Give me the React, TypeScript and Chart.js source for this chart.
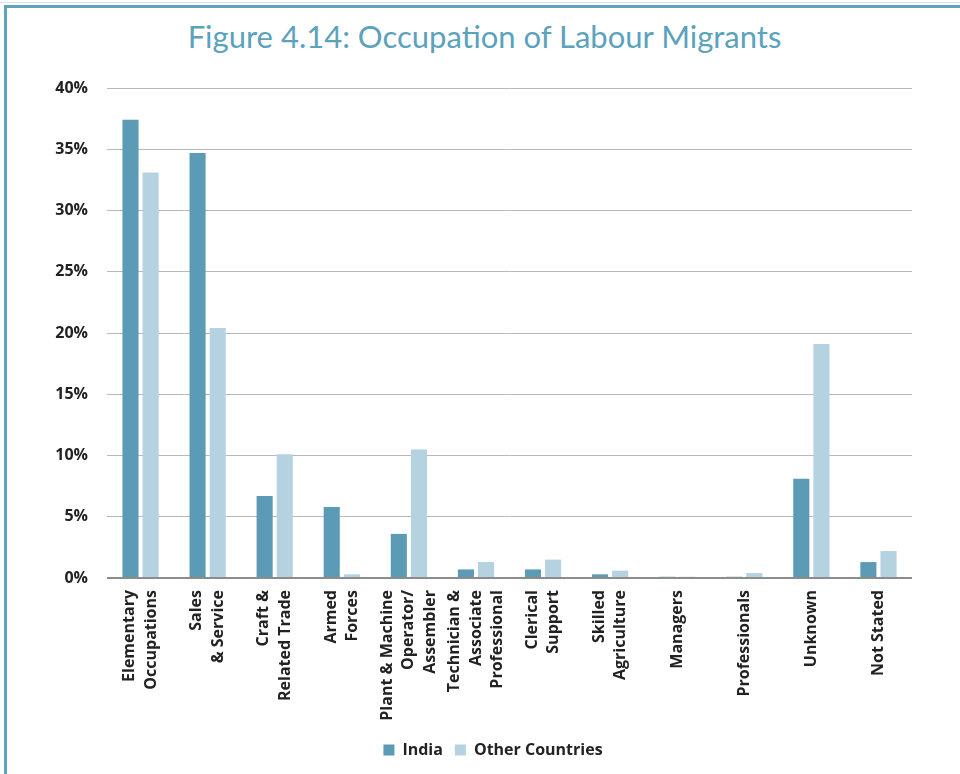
import React, { useEffect, useRef } from "react";
import { Chart, registerables } from "chart.js";

Chart.register(...registerables);

const categories: string[][] = [
  ["Elementary", "Occupations"],
  ["Sales", "& Service"],
  ["Craft &", "Related Trade"],
  ["Armed", "Forces"],
  ["Plant & Machine", "Operator/", "Assembler"],
  ["Technician &", "Associate", "Professional"],
  ["Clerical", "Support"],
  ["Skilled", "Agriculture"],
  ["Managers"],
  ["Professionals"],
  ["Unknown"],
  ["Not Stated"],
];

const indiaValues = [37.4, 34.7, 6.7, 5.8, 3.6, 0.7, 0.7, 0.3, 0.1, 0.1, 8.1, 1.3];
const otherValues = [33.1, 20.4, 10.1, 0.3, 10.5, 1.3, 1.5, 0.6, 0.1, 0.4, 19.1, 2.2];

const seriesNames = ["India", "Other Countries"];
const yTicks = [0, 5, 10, 15, 20, 25, 30, 35, 40];

const TITLE = "Figure 4.14: Occupation of Labour Migrants";

const LABEL_FONT = "bold 16px 'Open Sans', sans-serif";
const LABEL_LINE = 21.6;

const centeredLabelsPlugin = {
  id: "centeredLabels",
  afterLayout(chart: any) {
    if (chart.legend) {
      chart.legend.left = 74;
    }
  },
  afterDraw(chart: any) {
    const xs = chart.scales.x;
    const ctx = chart.ctx;
    const y0 = chart.chartArea.bottom + 12;
    ctx.save();
    ctx.font = LABEL_FONT;
    ctx.fillStyle = "#222";
    ctx.textAlign = "right";
    ctx.textBaseline = "middle";
    categories.forEach((lines, i) => {
      const px = xs.getPixelForTick(i);
      const n = lines.length;
      lines.forEach((line, j) => {
        const off = (j - (n - 1) / 2) * LABEL_LINE;
        ctx.save();
        ctx.translate(px + off, y0);
        ctx.rotate(-Math.PI / 2);
        ctx.fillText(line, 0, 0);
        ctx.restore();
      });
    });
    ctx.restore();
  },
};

export default function App() {
  const canvasRef = useRef<HTMLCanvasElement | null>(null);

  useEffect(() => {
    if (!canvasRef.current) return;
    const chart = new Chart(canvasRef.current, {
      type: "bar",
      data: {
        labels: categories.map((l) => l.join(" ")),
        datasets: [
          {
            label: seriesNames[0],
            data: indiaValues,
            backgroundColor: "#5b9bb6",
            borderWidth: 0,
            categoryPercentage: 0.6,
            barPercentage: 0.8,
          },
          {
            label: seriesNames[1],
            data: otherValues,
            backgroundColor: "#b4d2e0",
            borderWidth: 0,
            categoryPercentage: 0.6,
            barPercentage: 0.8,
          },
        ],
      },
      plugins: [centeredLabelsPlugin],
      options: {
        animation: false,
        responsive: false,
        maintainAspectRatio: false,
        layout: { padding: { left: 0, right: 48, top: 88, bottom: 6 } },
        plugins: {
          title: { display: false },
          tooltip: { enabled: false },
          legend: {
            position: "bottom",
            labels: {
              boxWidth: 11,
              boxHeight: 11,
              padding: 12,
              color: "#222",
              font: { family: "'Open Sans', sans-serif", size: 16, weight: "bold" },
            },
          },
        },
        scales: {
          x: {
            grid: { display: false, drawTicks: false },
            border: { display: false },
            ticks: { display: false },
            afterFit: (scale: any) => {
              scale.height = 152;
            },
          },
          y: {
            min: 0,
            max: 40,
            afterBuildTicks: (scale: any) => {
              scale.ticks = yTicks.map((v) => ({ value: v }));
            },
            grid: {
              drawTicks: false,
              color: (ctx: any) => (ctx.tick && ctx.tick.value === 0 ? "#8c8c8c" : "#b9b9b9"),
              lineWidth: (ctx: any) => (ctx.tick && ctx.tick.value === 0 ? 2 : 1),
            },
            border: { display: false },
            ticks: {
              padding: 19,
              color: "#222",
              font: { family: "'Open Sans', sans-serif", size: 16, weight: "bold" },
              callback: (v: any) => v + "%",
            },
            afterFit: (scale: any) => {
              scale.width = 107;
            },
          },
        },
      },
    });
    return () => chart.destroy();
  }, []);

  return (
    <div style={{ position: "absolute", left: 0, top: 0, width: 960, height: 774, background: "#fff", overflow: "hidden" }}>
      <div style={{ position: "absolute", left: 0, top: 2, width: 960, height: 1, background: "#dfe6ea" }} />
      <div
        style={{
          position: "absolute",
          left: 4,
          top: 5,
          width: 980,
          height: 800,
          borderLeft: "3px solid #5fa3bf",
          borderTop: "3px solid #5fa3bf",
        }}
      />
      <div
        style={{
          position: "absolute",
          left: 0,
          top: 14,
          width: 969,
          textAlign: "center",
          fontFamily: "Lato, sans-serif",
          fontSize: 31,
          color: "#5ba2bd",
          lineHeight: "44px",
        }}
      >
        {TITLE}
      </div>
      <canvas ref={canvasRef} width={960} height={774} style={{ position: "absolute", left: 0, top: 0 }} />
    </div>
  );
}
